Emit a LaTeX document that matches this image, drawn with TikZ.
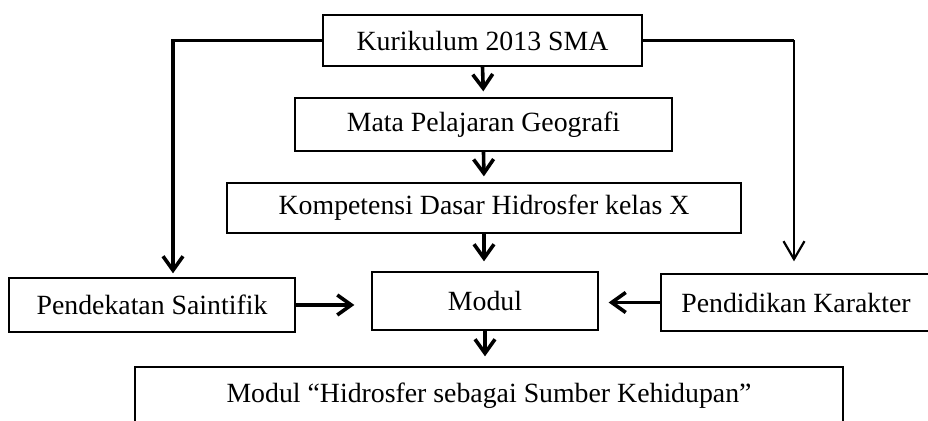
\documentclass[tikz,border=0pt]{standalone}
\usepackage{fontspec}
\setmainfont{Liberation Serif}
\usepackage{tikz}
\usetikzlibrary{arrows.meta,positioning}
\tikzstyle{block} = [rectangle, draw, line width=0.65pt, inner sep=0pt,
    text centered]
\tikzstyle{arrow} = [line width=1.8pt, -{Straight Barb[length=7pt,width=10pt,line width=1.8pt]}]
\tikzstyle{thinarrow} = [line width=1.1pt, -{Straight Barb[length=9pt,width=10.5pt,line width=1.1pt]}]
\tikzstyle{link} = [line width=1.8pt]
\tikzstyle{every node}=[font=\fontsize{13.9}{16}\selectfont]

\begin{document}
\begin{tikzpicture}[x=0.5pt,y=-0.5pt]
	\useasboundingbox (0,0) rectangle (928,421);
	\clip (0,0) rectangle (928,421);
	% Place nodes
	\node [block, minimum width=159.5pt, minimum height=25.5pt] (kur) at (482.5,40.5) {Kurikulum 2013 SMA};
	\node [block, minimum width=188.5pt, minimum height=26.5pt] (mapel) at (483.5,124.5) {Mata Pelajaran Geografi};
	\node [block, minimum width=257pt, minimum height=25pt] (kd) at (484,208) {Kompetensi Dasar Hidrosfer kelas X};
	\node [block, minimum width=143pt, minimum height=27pt] (pend) at (152,305) {Pendekatan Saintifik};
	\node [block, minimum width=113pt, minimum height=29pt] (modul) at (485,301) {Modul};
	\node [block, minimum width=135pt, minimum height=28.5pt] (kar) at (796,302.5) {Pendidikan Karakter};
	\node [block, minimum width=354pt, minimum height=29pt] (hidro) at (489,396) {Modul ``Hidrosfer sebagai Sumber Kehidupan''};
	
	% Side turns
	\coordinate (lturn) at (173,40.5);
	\coordinate (rturn) at (794,40.5);
	
	% Draw edges
	\draw [arrow, shorten >=3pt] (kur.south) -- (mapel.north);
	\draw [arrow, shorten >=3pt] (mapel.south) -- (kd.north);
	\draw [arrow, shorten >=5pt] (kd.south) -- (kd.south |- modul.north);
	\draw [arrow, shorten >=5pt] (modul.south) -- (modul.south |- hidro.north);
	\draw [arrow, shorten >=8.5pt] (pend.east) -- (pend.east -| modul.west);
	\draw [arrow, shorten >=5pt] (kar.west) -- (kar.west -| modul.east);
	\draw [arrow, shorten >=2pt] (kur.west) -- (lturn) -- (lturn |- pend.north);
	\draw [link] (kur.east) -- (rturn);
	\draw [thinarrow, shorten >=6pt] (rturn) -- (rturn |- kar.north);
 
\end{tikzpicture}
\end{document}
